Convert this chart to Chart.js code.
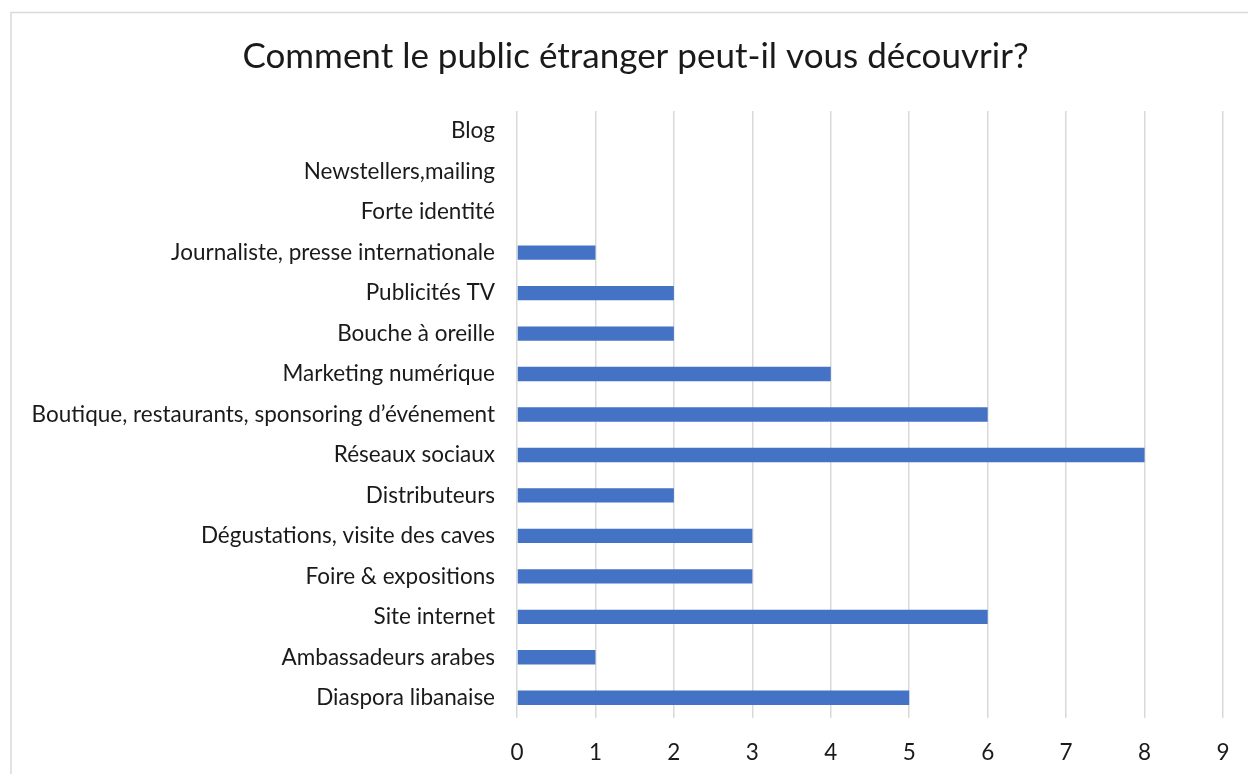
<!DOCTYPE html>
<html>
<head>
<meta charset="utf-8">
<script src="https://cdn.jsdelivr.net/npm/chart.js@4"></script>
<style>
html,body{margin:0;padding:0;background:#fff;}
#wrap{position:relative;width:1248px;height:774px;}
</style>
</head>
<body>
<div id="wrap"><canvas id="c" width="1248" height="774"></canvas></div>
<script>
const titleText = "Comment le public étranger peut-il vous découvrir?";
const categories = [
  "Blog",
  "Newstellers,mailing",
  "Forte identité",
  "Journaliste, presse internationale",
  "Publicités TV",
  "Bouche à oreille",
  "Marketing numérique",
  "Boutique, restaurants, sponsoring d’événement",
  "Réseaux sociaux",
  "Distributeurs",
  "Dégustations, visite des caves",
  "Foire & expositions",
  "Site internet",
  "Ambassadeurs arabes",
  "Diaspora libanaise"
];
const values = [0, 0, 0, 1, 2, 2, 4, 6, 8, 2, 3, 3, 6, 1, 5];
const xTicks = [0, 1, 2, 3, 4, 5, 6, 7, 8, 9];

const FONT = "Lato, 'Open Sans', sans-serif";

const borderPlugin = {
  id: 'outerBorder',
  beforeDraw(chart) {
    const ctx = chart.ctx;
    ctx.save();
    ctx.fillStyle = '#ffffff';
    ctx.fillRect(0, 0, chart.width, chart.height);
    ctx.strokeStyle = '#d9d9d9';
    ctx.lineWidth = 1.5;
    ctx.strokeRect(11, 12.5, 1400, 900);
    ctx.restore();
  }
};

const titleShift = {
  id: 'titleShift',
  afterLayout(chart) {
    const t = chart.titleBlock;
    if (t) { t.left += 18; t.right += 18; }
  }
};

const LEFT_PAD = 12;

new Chart(document.getElementById('c'), {
  type: 'bar',
  data: {
    labels: categories,
    datasets: [{
      data: values,
      backgroundColor: '#4472C4',
      borderWidth: 0,
      categoryPercentage: 1.0,
      barPercentage: 0.355
    }]
  },
  options: {
    indexAxis: 'y',
    responsive: false,
    animation: false,
    layout: { padding: { left: LEFT_PAD, right: 25, top: 0, bottom: 0 } },
    plugins: {
      legend: { display: false },
      tooltip: { enabled: false },
      title: {
        display: true,
        text: titleText,
        color: '#1a1a1a',
        font: { family: FONT, size: 35, weight: 'normal' },
        padding: { top: 36, bottom: 33 }
      }
    },
    scales: {
      x: {
        min: 0,
        max: 9,
        afterBuildTicks(scale) { scale.ticks = xTicks.map(v => ({ value: v })); },
        afterFit(scale) { scale.height = 56; scale.paddingRight = 0; scale.paddingLeft = 0; },
        grid: { color: '#d9d9d9', lineWidth: 1.5, drawTicks: false },
        border: { display: false },
        ticks: { color: '#1a1a1a', font: { family: FONT, size: 22.5 }, padding: 21.5, stepSize: 1 }
      },
      y: {
        grid: { display: false, drawTicks: false },
        border: { display: false },
        afterFit(scale) { scale.width = 517 - LEFT_PAD; scale.paddingTop = 0; scale.paddingBottom = 0; },
        ticks: { color: '#1a1a1a', font: { family: FONT, size: 22.5 }, padding: 22, autoSkip: false }
      }
    }
  },
  plugins: [borderPlugin, titleShift]
});
</script>
</body>
</html>
